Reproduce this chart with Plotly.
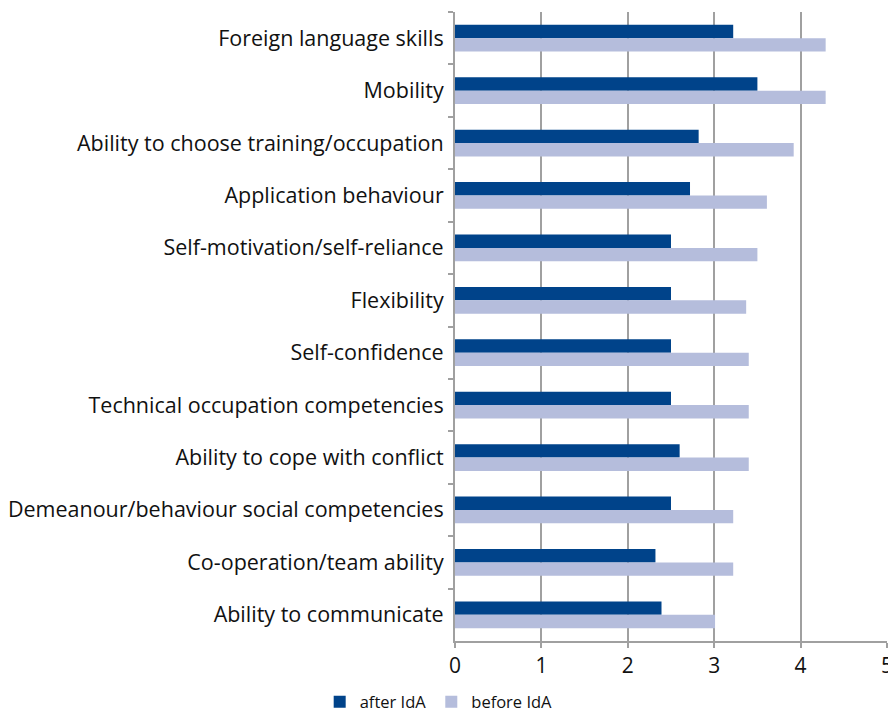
import plotly.graph_objects as go

categories = [
    'Foreign language skills',
    'Mobility',
    'Ability to choose training/occupation',
    'Application behaviour',
    'Self-motivation/self-reliance',
    'Flexibility',
    'Self-confidence',
    'Technical occupation competencies',
    'Ability to cope with conflict',
    'Demeanour/behaviour social competencies',
    'Co-operation/team ability',
    'Ability to communicate',
]
after_ida = [3.22, 3.50, 2.82, 2.72, 2.50, 2.50, 2.50, 2.50, 2.60, 2.50, 2.32, 2.39]
before_ida = [4.29, 4.29, 3.92, 3.61, 3.50, 3.37, 3.40, 3.40, 3.40, 3.22, 3.22, 3.01]

grid_col = '#a0a0a0'

fig = go.Figure()
fig.add_trace(go.Bar(y=categories, x=after_ida, name='after IdA', orientation='h',
                     marker=dict(color='#00438a', line=dict(width=0))))
fig.add_trace(go.Bar(y=categories, x=before_ida, name='before IdA', orientation='h',
                     marker=dict(color='#b5bddc', line=dict(width=0))))

# page body has an 8px margin, so the figure is a bit smaller than the window
fig.update_layout(
    width=888, height=706,
    barmode='group', bargap=0.49, bargroupgap=0,
    paper_bgcolor='white', plot_bgcolor='white',
    margin=dict(l=447, r=9, t=4, b=73),
    font=dict(family='Open Sans', color='#111111'),
    showlegend=True,
    legend=dict(orientation='h', xref='container', x=0.351, xanchor='left',
                yref='container', y=0.017, yanchor='middle', font=dict(size=16.5),
                itemwidth=30, traceorder='normal'),
)
fig.update_xaxes(
    range=[0, 5], dtick=1, showgrid=True, gridcolor=grid_col, gridwidth=2,
    showline=True, linecolor=grid_col, linewidth=2,
    ticks='outside', ticklen=5, tickcolor=grid_col, tickwidth=2,
    tickfont=dict(size=21), zeroline=False, automargin=False,
)
fig.update_yaxes(
    autorange='reversed', showline=True, linecolor=grid_col, linewidth=2,
    ticks='outside', ticklen=5, tickcolor=grid_col, tickwidth=2,
    tickson='boundaries', showgrid=False, tickfont=dict(size=21.5),
    ticklabelstandoff=5, automargin=False,
)

fig.write_html('out.html')
